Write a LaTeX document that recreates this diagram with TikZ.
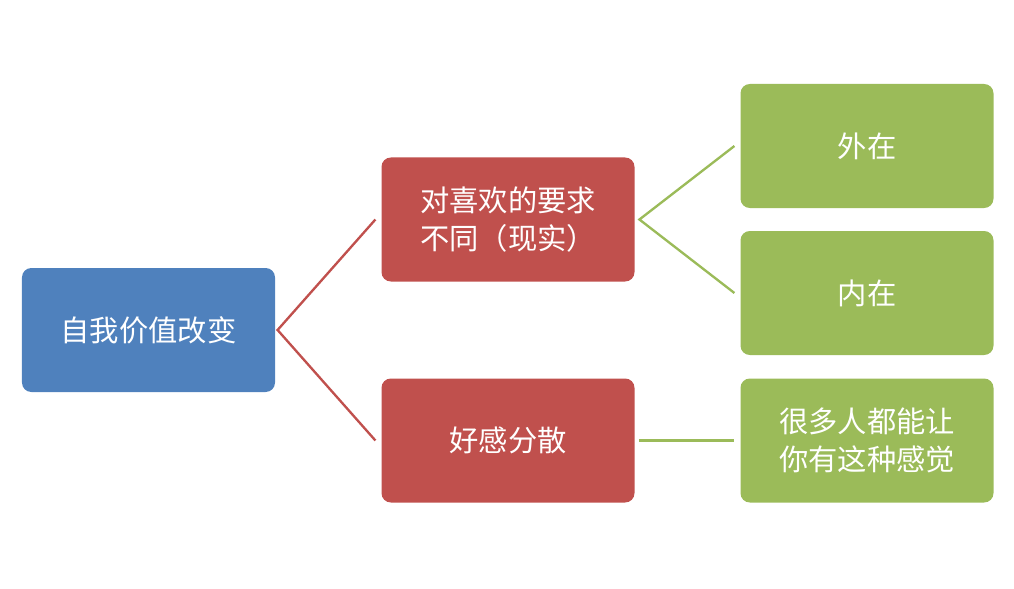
\documentclass[tikz,border=0pt]{standalone}
\usepackage{fontspec}
\setmainfont{Noto Sans CJK SC}
\definecolor{boxblue}{HTML}{4F81BD}
\definecolor{boxred}{HTML}{C0504D}
\definecolor{boxgreen}{HTML}{9BBB59}
\tikzset{
  box/.style={rounded corners=8pt, minimum width=7.59cm, minimum height=3.72cm,
    text=white, align=center, font=\fontsize{25}{32}\selectfont, inner sep=0pt},
  link/.style={line width=2pt}
}
\begin{document}
\begin{tikzpicture}[x=0.03cm,y=-0.03cm]
  \useasboundingbox (0,0) rectangle (1014,588);
  \node[box, fill=boxblue] (root) at (148.5,330) {自我价值改变};
  \node[box, fill=boxred] (req) at (508,219.5) {对喜欢的要求\\不同（现实）};
  \node[box, fill=boxred] (fav) at (508,440.5) {好感分散};
  \node[box, fill=boxgreen] (out) at (867,146) {外在};
  \node[box, fill=boxgreen] (in) at (867,293) {内在};
  \node[box, fill=boxgreen] (many) at (867,440.5) {很多人都能让\\你有这种感觉};
  \draw[link, boxred] ([xshift=2pt]req.west) ++(-4,0) coordinate (rq);
  \draw[link, boxred] ([xshift=-5]req.west) -- ([xshift=2]root.east) -- ([xshift=-5]fav.west);
  \draw[link, boxgreen] ([xshift=-5]out.west) -- ([xshift=4]req.east) -- ([xshift=-5]in.west);
  \draw[link, boxgreen] ([xshift=4]fav.east) -- ([xshift=-5]many.west);
\end{tikzpicture}
\end{document}
